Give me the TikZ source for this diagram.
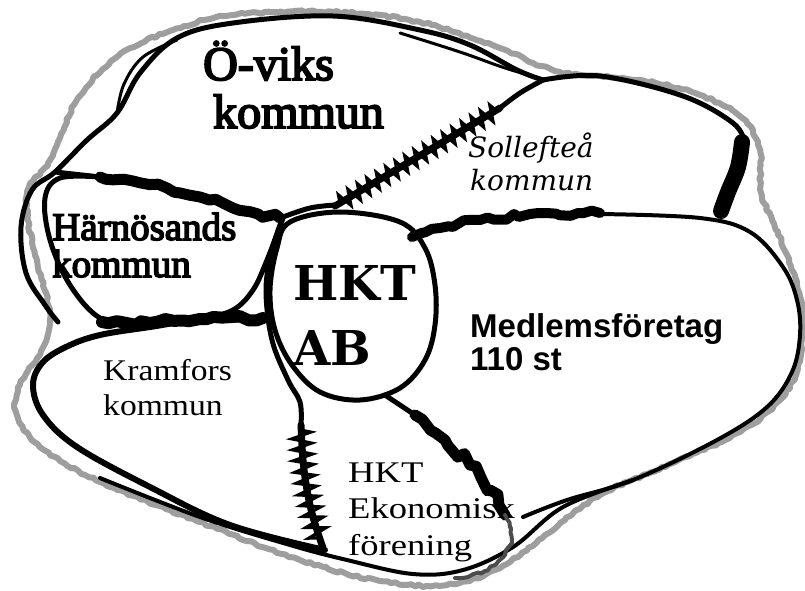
\documentclass[tikz,border=0pt]{standalone}
\usepackage{fontspec}
\setmainfont{Liberation Serif}
\newfontfamily\serifbold[FakeBold=4]{Liberation Serif}
\newfontfamily\slabfont{DejaVu Serif}
\newfontfamily\itfont{DejaVu Serif}
\newfontfamily\wideserif[FakeStretch=1.12]{Liberation Serif}
\newfontfamily\widerserif[FakeStretch=1.22]{Liberation Serif}
\newfontfamily\sansfont{Liberation Sans}
\usetikzlibrary{decorations.pathmorphing}
\tikzset{
  ink/.style={line width=5pt, line cap=round, line join=round},
  thinink/.style={line width=3pt, line cap=round, line join=round},
  crayon/.style={draw=black!38, line width=6pt, line cap=round, line join=round,
    decorate, decoration={random steps, segment length=4pt, amplitude=1.2pt}},
  beads/.style={line width=11pt, line cap=round, line join=round,
    decorate, decoration={random steps, segment length=8pt, amplitude=3pt}},
  teethcore/.style={line width=7pt, line cap=round, line join=round},
  teeth/.style={line width=3pt, line join=miter,
    decorate, decoration={zigzag, segment length=11pt, amplitude=8pt}},
  txt/.style={anchor=base west, inner sep=0pt}
}
\begin{document}
\begin{tikzpicture}[x=1pt,y=-1pt]
\fill[white] (0,0) rectangle (805,590);
\useasboundingbox (0,0) rectangle (805,590);

% gray crayon outer loop
\draw[crayon] plot[smooth cycle, tension=0.6] coordinates {
 (27,195) (50,160) (77,100) (117,57) (173,30) (233,15) (333,12) (420,22)
 (500,48) (560,72) (640,80) (700,95) (742,118) (760,150) (762,195)
 (787,255) (802,310) (798,365) (780,400) (740,432) (673,463) (600,495)
 (545,535) (500,568) (447,585) (380,581) (300,560) (200,522) (100,482)
 (40,447) (17,415) (20,385) (43,347) (50,313) (35,255)};

% outer black line (top and left)
\draw[ink] plot[smooth, tension=0.6] coordinates {
 (543,80) (517,70) (470,45) (420,30) (333,16) (233,23) (177,38) (140,73)
 (117,113) (87,140) (55,172) (32,190) (21,227) (26,273) (45,305) (58,322)};
\draw[thinink] plot[smooth, tension=0.6] coordinates {
 (117,113) (124,84) (143,57) (177,40)};
\draw[thinink] plot[smooth, tension=0.6] coordinates {
 (400,33) (460,52) (505,68) (543,79)};

% Solleftea top line and thick right stroke
\draw[ink] plot[smooth, tension=0.6] coordinates {
 (543,80) (600,76) (683,96) (733,123) (745,143)};
\draw[line width=16pt, line cap=round, line join=round] plot[smooth, tension=0.6] coordinates {
 (742,142) (738,167) (728,192) (721,211)};

% Medlemsforetag outline
\draw[ink, line width=4pt] plot[smooth, tension=0.6] coordinates {
 (600,214) (700,218) (750,232) (783,267) (797,300) (800,335) (792,372)
 (767,407) (717,440) (633,480) (567,500) (523,517)};

% bottom thin black line
\draw[ink, line width=4pt] plot[smooth, tension=0.6] coordinates {
 (100,478) (200,517) (290,545) (347,560) (413,574) (463,570) (513,547)
 (563,507) (633,480)};

% Kramfors outline
\draw[ink, line width=6pt] plot[smooth, tension=0.6] coordinates {
 (267,320) (200,320) (150,327) (100,335) (68,346) (43,362) (33,385)
 (43,415) (77,447) (150,487) (230,525) (325,550)};

% Harnosand outline
\draw[ink] plot[smooth, tension=0.6] coordinates {
 (100,177) (60,178) (45,198) (50,240) (70,285) (100,318) (135,322)};
\draw[ink] plot[smooth, tension=0.6] coordinates {
 (283,218) (267,260) (253,290) (233,310) (200,320)};

% line left of HKT AB
\draw[ink] plot[smooth, tension=0.6] coordinates {
 (283,217) (272,250) (266,290) (272,340) (288,380) (300,402) (301,425)};

% HKT AB circle
\draw[ink] plot[smooth cycle, tension=0.6] coordinates {
 (290,222) (340,212) (400,222) (425,248) (435,285) (435,325) (425,360)
 (400,388) (360,400) (320,392) (292,365) (275,330) (270,290) (277,248)};

% O-viks / Solleftea boundary
\draw[ink] plot[smooth, tension=0.6] coordinates {(283,217) (310,208) (335,205)};
\draw[ink] plot[smooth, tension=0.6] coordinates {(500,108) (520,93) (543,80)};
\draw[teethcore] (335,206) -- (500,108);
\draw[teeth] (340,203) -- (497,110);

% Harnosand top beads
\draw[ink] (55,172) -- (100,177);
\draw[beads] plot coordinates {
 (100,177) (133,181) (167,188) (200,197) (233,208) (258,214) (280,218)};

% Harnosand / Kramfors beads
\draw[beads, line width=12pt] plot coordinates {
 (102,322) (150,323) (200,319) (263,318)};

% Medlemsforetag top beads
\draw[beads, line width=10pt] plot coordinates {
 (412,237) (440,228) (480,220) (530,214) (600,213)};

% HKT Ekonomisk forening left teeth
\draw[teethcore] plot[smooth, tension=0.6] coordinates {
 (301,425) (303,460) (307,490) (313,517) (323,548)};
\draw[teeth, decoration={zigzag, segment length=11pt, amplitude=10pt}] plot coordinates {
 (301,430) (303,460) (307,490) (313,517) (320,542)};

% HKT Ekonomisk forening right boundary
\draw[ink] (385,395) -- (415,415);
\draw[line width=11pt, line cap=round, line join=round,
  decorate, decoration={random steps, segment length=9pt, amplitude=4.5pt}]
  plot coordinates {(415,415) (445,440) (470,465) (490,490) (505,515)};
\draw[crayon, draw=black!70, line width=4pt] plot coordinates {
 (505,515) (511,528) (512,540) (505,555) (495,565) (485,571) (470,576) (455,578)};

% texts
\node[txt, font=\serifbold\fontsize{48}{48}\selectfont] (oviksA) at (203,80) {Ö-viks};
\node[txt, font=\serifbold\fontsize{48}{48}\selectfont] (oviksB) at (213,128) {kommun};
\node[txt, font=\itfont\itshape\fontsize{28}{28}\selectfont] (sollA) at (468,157) {Sollefteå};
\node[txt, font=\itfont\itshape\fontsize{28}{28}\selectfont] (sollB) at (470,190) {kommun};
\node[txt, font=\serifbold\fontsize{39}{39}\selectfont] (harnA) at (52,240) {Härnösands};
\node[txt, font=\serifbold\fontsize{39}{39}\selectfont] (harnB) at (52,277) {kommun};
\node[txt, font=\slabfont\bfseries\fontsize{48}{48}\selectfont] (hktA) at (293,300) {HKT};
\node[txt, font=\slabfont\bfseries\fontsize{48}{48}\selectfont] (hktB) at (293,365) {AB};
\node[txt, font=\sansfont\bfseries\fontsize{33}{33}\selectfont] (medA) at (470,337) {Medlemsföretag};
\node[txt, font=\sansfont\bfseries\fontsize{33}{33}\selectfont] (medB) at (470,370) {110 st};
\node[txt, font=\wideserif\fontsize{30}{30}\selectfont] (kramA) at (103,380) {Kramfors};
\node[txt, font=\wideserif\fontsize{30}{30}\selectfont] (kramB) at (103,415) {kommun};
\node[txt, font=\widerserif\fontsize{30}{30}\selectfont] (ekA) at (348,482) {HKT};
\node[txt, font=\widerserif\fontsize{30}{30}\selectfont] (ekB) at (348,518) {Ekonomisk};
\node[txt, font=\widerserif\fontsize{30}{30}\selectfont] (ekC) at (348,555) {förening};
\end{tikzpicture}
\end{document}
